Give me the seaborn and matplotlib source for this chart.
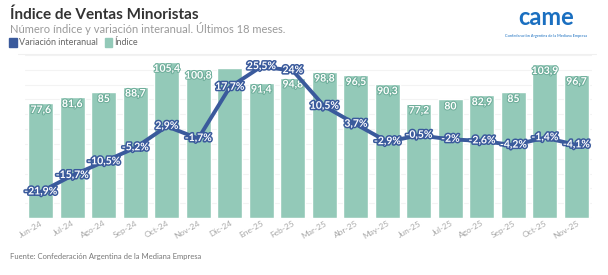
import pandas as pd
import seaborn as sns
import matplotlib.pyplot as plt
import matplotlib.patheffects as pe

# Données
meses = ['Jun-24', 'Jul-24', 'Ago-24', 'Sep-24', 'Oct-24', 'Nov-24', 'Dic-24', 'Ene-25', 'Feb-25',
         'Mar-25', 'Abr-25', 'May-25', 'Jun-25', 'Jul-25', 'Ago-25', 'Sep-25', 'Oct-25', 'Nov-25']
indice = [77.6, 81.6, 85, 88.7, 105.4, 100.8, 101.5, 91.4, 94.8,
          98.8, 96.5, 90.3, 77.2, 80, 82.9, 85, 103.9, 96.7]
variacion = [-21.9, -15.7, -10.5, -5.2, 2.9, -1.7, 17.7, 25.5, 24,
             10.5, 3.7, -2.9, -0.5, -2, -2.6, -4.2, -1.4, -4.1]
# Dic-24 : étiquette cachée par celle de la ligne
mostrar_indice = [m != 'Dic-24' for m in meses]

verde = '#93c9b8'
azul = '#3a5a9c'

df = pd.DataFrame({'mes': meses, 'indice': indice, 'variacion': variacion})
df['pos'] = range(len(df))

sns.set_style('white')
plt.rcParams['font.family'] = ['Lato', 'DejaVu Sans']

fig = plt.figure(figsize=(6.08, 2.75), dpi=100)
ax = fig.add_axes([0.041, 0.207, 0.933, 0.593])

sns.barplot(data=df, x='mes', y='indice', color=verde, width=0.79, saturation=1, ax=ax)
ax.set_ylim(0, 110)
ax.set_xlim(-0.5, len(meses) - 0.5)
ax.set_yticks(range(0, 111, 10))
ax.set_yticklabels([])
ax.tick_params(axis='y', length=0)
ax.grid(axis='y', color='#f3f3f3', linewidth=0.8)
ax.set_axisbelow(True)
ax.set_xlabel('')
ax.set_ylabel('')
for s in ax.spines.values():
    s.set_visible(False)
ax.tick_params(axis='x', length=0, pad=1, labelsize=6, labelcolor='#a8a8a8')
plt.setp(ax.get_xticklabels(), rotation=30, ha='right', rotation_mode='anchor')

for p, v, ok in zip(df['pos'], indice, mostrar_indice):
    if ok:
        ax.text(p, v - 2, f'{v:g}'.replace('.', ','), ha='center', va='top', fontsize=7.5,
                fontweight='bold', color='white',
                path_effects=[pe.withStroke(linewidth=1.5, foreground='#6fae9b')])

ax2 = ax.twinx()
sns.lineplot(data=df, x='pos', y='variacion', color=azul, linewidth=2.8, ax=ax2)
ax2.set_ylim(-31.8, 29.9)
ax2.set_yticks([])
ax2.set_xlabel('')
ax2.set_ylabel('')
for s in ax2.spines.values():
    s.set_visible(False)

for p, v in zip(df['pos'], variacion):
    ax2.text(p, v, f'{v:g}%'.replace('.', ','), ha='center', va='center', fontsize=7.5,
             fontweight='bold', color='white',
             path_effects=[pe.withStroke(linewidth=2.2, foreground=azul)])

# Titres et légende
fig.text(0.016, 0.945, 'Índice de Ventas Minoristas', fontsize=11, fontweight='bold',
         color='#333333', va='center')
fig.text(0.016, 0.895, 'Número índice y variación interanual. Últimos 18 meses.', fontsize=8,
         color='#9a9a9a', va='center')
fig.patches.append(plt.Rectangle((0.015, 0.828), 0.013, 0.033, transform=fig.transFigure,
                                 color=azul, figure=fig))
fig.text(0.031, 0.845, 'Variación interanual', fontsize=6.5, color='#666666', va='center')
fig.patches.append(plt.Rectangle((0.172, 0.828), 0.013, 0.033, transform=fig.transFigure,
                                 color=verde, figure=fig))
fig.text(0.188, 0.845, 'Índice', fontsize=6.5, color='#666666', va='center')

# Logo
fig.text(0.898, 0.935, 'came', fontsize=17, fontweight='bold', color='#1a6fc0',
         ha='center', va='center')
fig.text(0.898, 0.868, 'Confederación Argentina de la Mediana Empresa', fontsize=2.8,
         color='#1a6fc0', ha='center', va='center')

fig.add_artist(plt.Line2D([0.03, 0.98], [0.805, 0.805], color='#f0f0f0', linewidth=0.8))

fig.text(0.016, 0.068, 'Fuente: Confederación Argentina de la Mediana Empresa', fontsize=5.5,
         color='#777777', va='center')

fig.savefig('out.png', dpi=100, facecolor='white')
